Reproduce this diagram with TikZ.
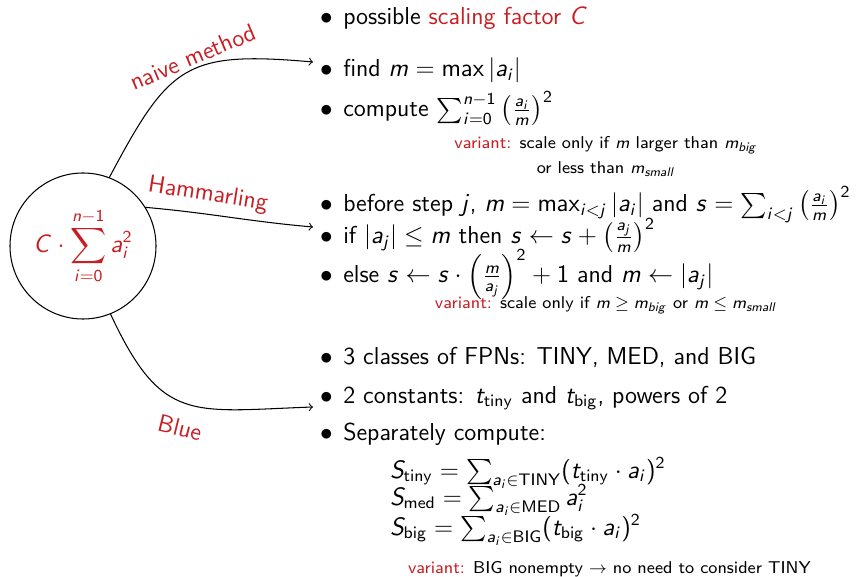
\documentclass[tikz,border=0pt]{standalone}
\usepackage{amsmath}
\renewcommand\familydefault{\sfdefault}
% sans-serif math: upright cmss for operators/digits, slanted cmss for letters
\DeclareSymbolFont{operators}{OT1}{cmss}{m}{n}
\DeclareSymbolFont{sfletters}{OT1}{cmss}{m}{it}
\newcount\mathltr
\mathltr=`a
\loop
  \mathcode\mathltr=\numexpr"7000+\symsfletters*"100+\mathltr\relax
  \ifnum\mathltr<`z \advance\mathltr by 1 \repeat
\mathltr=`A
\loop
  \mathcode\mathltr=\numexpr"7000+\symsfletters*"100+\mathltr\relax
  \ifnum\mathltr<`Z \advance\mathltr by 1 \repeat
\definecolor{alertred}{RGB}{200,30,35}
\newcommand\bul{\makebox[0.95em][l]{$\bullet$}}
\newcommand\bodyfont{\fontsize{11.7}{14}\selectfont}
\newcommand\notefont{\fontsize{8.2}{10}\selectfont}
\begin{document}
\begin{tikzpicture}[x=0.0168cm,y=0.0168cm,
  every node/.style={inner sep=0pt, outer sep=0pt},
  txt/.style={anchor=base west, font=\bodyfont},
  note/.style={anchor=base, font=\notefont},
  method/.style={text=alertred, font=\bodyfont},
  link/.style={->, line width=0.5pt},
  sumcircle/.style={circle, draw, line width=0.5pt, minimum size=2.453cm}]
\useasboundingbox (0,0) rectangle (857,-577);

% central quantity
\node[sumcircle, font=\bodyfont] (c) at (83,-246)
  {\textcolor{alertred}{$\displaystyle C\cdot\sum_{i=0}^{n-1}a_i^2$}};

% method labels
\node[method, rotate=23] (lnaive) at (193,-57) {naive method};
\node[method, rotate=-9] (lhamm) at (208,-195) {Hammarling};
\node[method, rotate=-14] (lblue) at (180,-428) {Blue};

% connectors
\coordinate (tnaive) at (313,-62);
\coordinate (thamm) at (313,-227);
\coordinate (tblue) at (313,-407);
\draw[link] (c.69) to[out=62,in=175,looseness=1.4] (tnaive);
\draw[link] (c.32) to[out=-5,in=175] (thamm);
\draw[link] (c.-68) to[out=-65,in=182,looseness=1.4] (tblue);

% naive method
\node[txt] (b1) at (320,-25) {\bul possible \textcolor{alertred}{scaling factor $C$}};
\node[txt] (b2) at (320,-77) {\bul find $m=\max|a_i|$};
\node[txt] (b3) at (320,-117) {\bul compute $\sum_{i=0}^{n-1}\left(\frac{a_i}{m}\right)^2$};
\node[note] (v1a) at (606,-149) {\textcolor{alertred}{variant:} scale only if $m$ larger than $m_{big}$};
\node[note] (v1b) at (606,-174) {or less than $m_{small}$};

% Hammarling
\node[txt] (h1) at (320,-212) {\bul before step $j$, $m=\max_{i<j}|a_i|$ and $s=\sum_{i<j}\left(\frac{a_i}{m}\right)^2$};
\node[txt] (h2) at (320,-244) {\bul if $|a_j|\le m$ then $s\leftarrow s+\left(\frac{a_j}{m}\right)^2$};
\node[txt] (h3) at (320,-283) {\bul else $s\leftarrow s\cdot\left(\frac{m}{a_j}\right)^2+1$ and $m\leftarrow|a_j|$};
\node[note] (v2) at (606,-309) {\textcolor{alertred}{variant:} scale only if $m\ge m_{big}$ or $m\le m_{small}$};

% Blue
\node[txt] (u1) at (320,-365) {\bul 3 classes of FPNs: TINY, MED, and BIG};
\node[txt] (u2) at (320,-403) {\bul 2 constants: $t_{\mathrm{tiny}}$ and $t_{\mathrm{big}}$, powers of 2};
\node[txt] (u3) at (320,-440) {\bul Separately compute:};
\node[txt] (s1) at (390,-478) {$S_{\mathrm{tiny}}=\sum_{a_i\in\mathrm{TINY}}(t_{\mathrm{tiny}}\cdot a_i)^2$};
\node[txt] (s2) at (390,-505) {$S_{\mathrm{med}}=\sum_{a_i\in\mathrm{MED}}a_i^2$};
\node[txt] (s3) at (390,-535) {$S_{\mathrm{big}}=\sum_{a_i\in\mathrm{BIG}}(t_{\mathrm{big}}\cdot a_i)^2$};
\node[txt, font=\notefont] (v3) at (408,-573) {\textcolor{alertred}{variant:} BIG nonempty $\to$ no need to consider TINY};
\end{tikzpicture}
\end{document}
